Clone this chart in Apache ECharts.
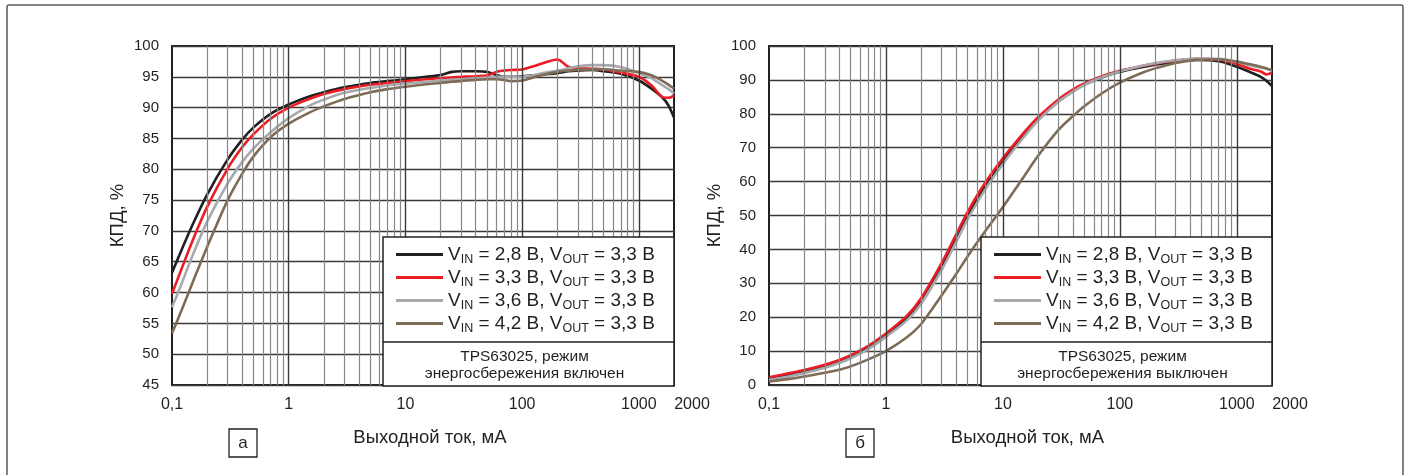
<!DOCTYPE html>
<html><head><meta charset="utf-8">
<script src="https://cdn.jsdelivr.net/npm/echarts@6/dist/echarts.min.js"></script>
<style>html,body{margin:0;padding:0;background:#fff}#c{width:1409px;height:475px}</style>
</head><body><div id="c"></div>
<script>
// ---------- data: panel a (power save enabled) ----------
const currentA = [0.1, 0.12, 0.15, 0.2, 0.3, 0.4, 0.5, 0.7, 1, 1.5, 2, 3, 5, 7, 10, 15, 20, 25, 30, 40, 50, 60, 70, 80, 100, 130, 150, 200, 250, 300, 400, 500, 700, 1000, 1300, 1600, 1800, 2000];
const effA_28 = [63.2, 66.8, 71.0, 75.9, 81.6, 84.8, 86.8, 89.0, 90.5, 91.8, 92.5, 93.3, 94.0, 94.3, 94.6, 95.0, 95.3, 95.8, 95.9, 95.9, 95.8, 95.3, 95.0, 95.0, 95.1, 95.3, 95.4, 95.6, 95.9, 96.0, 96.1, 95.9, 95.5, 94.4, 93.0, 91.6, 90.3, 88.4];
const effA_33 = [59.8, 63.7, 68.4, 73.9, 80.1, 83.6, 85.7, 88.2, 90.0, 91.4, 92.2, 93.0, 93.7, 94.0, 94.3, 94.6, 94.8, 94.9, 95.0, 95.1, 95.2, 95.8, 96.0, 96.1, 96.2, 96.8, 97.2, 97.8, 96.6, 96.4, 96.3, 96.2, 95.7, 95.0, 93.5, 91.7, 91.6, 92.0];
const effA_36 = [57.6, 61.3, 66.0, 71.5, 77.7, 81.2, 83.4, 86.0, 88.3, 90.3, 91.3, 92.4, 93.2, 93.6, 93.9, 94.2, 94.4, 94.5, 94.6, 94.8, 94.9, 95.0, 95.0, 95.0, 95.0, 95.3, 95.6, 96.0, 96.4, 96.7, 96.9, 96.9, 96.6, 95.6, 94.7, 93.6, 93.0, 92.3];
const effA_42 = [53.4, 57.0, 61.6, 67.4, 75.0, 79.3, 82.1, 85.2, 87.4, 89.2, 90.2, 91.4, 92.5, 93.0, 93.4, 93.8, 94.0, 94.2, 94.3, 94.5, 94.6, 94.6, 94.5, 94.3, 94.4, 95.0, 95.3, 95.8, 96.0, 96.1, 96.2, 96.2, 96.0, 95.8, 95.2, 94.3, 93.7, 93.1];

// ---------- data: panel b (power save disabled) ----------
const currentB = [0.1, 0.15, 0.2, 0.3, 0.4, 0.5, 0.7, 1, 1.5, 2, 3, 4, 5, 7, 10, 15, 20, 30, 40, 50, 70, 100, 150, 200, 300, 450, 700, 1000, 1300, 1600, 1800, 2000];
const effB_28 = [1.8, 2.9, 3.8, 5.4, 6.8, 8.2, 10.9, 14.6, 19.6, 24.7, 35.0, 43.4, 50.0, 58.5, 66.0, 73.6, 78.4, 83.8, 86.7, 88.6, 90.7, 92.4, 93.7, 94.5, 95.4, 95.9, 95.5, 93.9, 92.3, 90.9, 89.7, 88.2];
const effB_33 = [2.3, 3.5, 4.4, 6.0, 7.4, 8.8, 11.5, 15.2, 20.3, 25.6, 36.0, 44.5, 51.1, 59.5, 66.9, 74.3, 79.0, 84.3, 87.2, 89.0, 91.1, 92.7, 94.0, 94.8, 95.7, 96.2, 96.0, 94.7, 93.3, 92.5, 91.6, 92.1];
const effB_36 = [1.5, 2.6, 3.5, 5.1, 6.5, 7.9, 10.5, 14.2, 19.0, 24.0, 34.0, 42.3, 48.9, 57.5, 65.2, 73.0, 78.0, 83.6, 86.6, 88.6, 90.8, 92.5, 94.0, 94.9, 95.8, 96.3, 96.2, 95.3, 94.3, 93.6, 93.2, 92.7];
const effB_42 = [1.0, 1.8, 2.5, 3.6, 4.5, 5.5, 7.5, 10.0, 14.0, 18.0, 26.5, 32.8, 38.0, 45.2, 52.5, 61.3, 67.6, 75.3, 79.4, 82.3, 86.0, 89.2, 91.9, 93.4, 95.0, 95.9, 96.1, 95.4, 94.6, 93.9, 93.4, 92.9];

// ---------- labels ----------
const vinValues = ['2,8', '3,3', '3,6', '4,2'];
const voutValue = '3,3';
const xTickValues = [0.1, 1, 10, 100, 1000, 2000];
const yRangeA = [45, 100, 5];
const yRangeB = [0, 100, 10];
const xAxisTitle = 'Выходной ток, мА';
const yAxisTitle = 'КПД, %';
const noteA = ['TPS63025, режим', 'энергосбережения включен'];
const noteB = ['TPS63025, режим', 'энергосбережения выключен'];
const panelLetters = ['а', 'б'];
const colors = ['#231f20', '#ed1c24', '#a7a9ac', '#7d6b56'];

// ---------- layout ----------
const FONT = "'Liberation Sans', Arial, sans-serif";
const TXT = '#231f20';
const grids = [
  {left: 172, top: 46, width: 502, height: 339},
  {left: 769, top: 46, width: 503, height: 339}
];

// gridline positions for log axis (derived, not data)
const majorX = [1, 10, 100, 1000];
const minorX = [];
for (let d = 0.1; d < 2000; d *= 10) {
  for (let k = 2; k <= 9; k++) {
    const v = +(d * k).toPrecision(6);
    if (v < 2000) minorX.push(v);
  }
}

function fmtX(v) {
  const n = +(+v).toPrecision(6);
  if (n === 2000) return '{e|2000}';
  return String(n).replace('.', ',');
}

function xAxisFor(i) {
  return {
    gridIndex: i, type: 'log', logBase: 10, min: 0.1, max: 2000,
    axisLine: {show: false}, axisTick: {show: false}, splitLine: {show: false},
    axisLabel: {
      customValues: xTickValues, formatter: fmtX, margin: 12,
      fontSize: 16, color: TXT, fontFamily: FONT,
      rich: {e: {fontSize: 16, color: TXT, fontFamily: FONT, padding: [0, 0, 0, 36]}}
    },
    name: xAxisTitle, nameLocation: 'middle', nameGap: 43,
    nameTextStyle: {fontSize: 18.5, color: TXT, fontFamily: FONT, padding: [0, 0, 0, 14]}
  };
}
function yAxisFor(i, r) {
  return {
    gridIndex: i, type: 'value', min: r[0], max: r[1], interval: r[2],
    axisLine: {show: false}, axisTick: {show: false},
    splitLine: {show: true, lineStyle: {color: '#3a3a3a', width: 1.4}},
    axisLabel: {fontSize: 15, color: TXT, fontFamily: FONT, margin: 13},
    name: yAxisTitle, nameLocation: 'middle', nameGap: 45, nameRotate: 90,
    nameTextStyle: {fontSize: 18.5, color: TXT, fontFamily: FONT}
  };
}

function gridLineSeries(i) {
  const ml = (vals, color, w) => vals.map(v => ({xAxis: v, lineStyle: {color: color, width: w, type: 'solid'}}));
  return {
    type: 'line', xAxisIndex: i, yAxisIndex: i, data: [], z: 1, silent: true,
    markLine: {
      silent: true, symbol: ['none', 'none'], label: {show: false}, animation: false,
      data: ml(minorX, '#878787', 1.2).concat(ml(majorX, '#3a3a3a', 1.4))
    }
  };
}

function curve(i, xs, ys, k) {
  return {
    type: 'line', name: vinValues[k], xAxisIndex: i, yAxisIndex: i,
    data: xs.map((x, j) => [x, ys[j]]),
    symbol: 'none', smooth: 0.3, z: 3,
    lineStyle: {color: colors[k], width: 2.6}, itemStyle: {color: colors[k]},
    animation: false
  };
}

const series = [
  gridLineSeries(0), gridLineSeries(1),
  curve(0, currentA, effA_28, 0), curve(0, currentA, effA_33, 1), curve(0, currentA, effA_36, 2), curve(0, currentA, effA_42, 3),
  curve(1, currentB, effB_28, 0), curve(1, currentB, effB_33, 1), curve(1, currentB, effB_36, 2), curve(1, currentB, effB_42, 3)
];

function legendFor(left) {
  return {
    data: vinValues, orient: 'vertical', left: left, top: 245, padding: 0,
    icon: 'rect', itemWidth: 47, itemHeight: 3, itemGap: 2, z: 20, selectedMode: false,
    formatter: name => `{n|V}{s|IN}{n| = ${name} В, V}{s|OUT}{n| = ${voutValue} В}`,
    textStyle: {
      rich: {
        n: {fontSize: 19, lineHeight: 23, color: TXT, fontFamily: FONT},
        s: {fontSize: 12.5, lineHeight: 10, verticalAlign: 'bottom', color: TXT, fontFamily: FONT}
      }
    }
  };
}

function boxGraphics(x0, x1, note, letterX, letter) {
  const els = [];
  els.push({type: 'rect', z: 10, shape: {x: x0, y: 237, width: x1 - x0, height: 149},
    style: {fill: '#fff', stroke: '#231f20', lineWidth: 1.5}});
  els.push({type: 'line', z: 11, shape: {x1: x0, y1: 342, x2: x1, y2: 342},
    style: {stroke: '#231f20', lineWidth: 1.3}});
  note.forEach((t, j) => els.push({type: 'text', z: 11, x: (x0 + x1) / 2 - 4, y: 357 + j * 17,
    style: {text: t, fontSize: 15.5, fill: TXT, fontFamily: FONT, align: 'center', verticalAlign: 'middle'}}));
  els.push({type: 'rect', z: 11, shape: {x: letterX, y: 429, width: 28, height: 28},
    style: {fill: '#fff', stroke: '#231f20', lineWidth: 1.3}});
  els.push({type: 'text', z: 12, x: letterX + 14, y: 443,
    style: {text: letter, fontSize: 17, fill: TXT, fontFamily: FONT, align: 'center', verticalAlign: 'middle'}});
  return els;
}

const graphic = [
  {type: 'rect', z: 0, shape: {x: 7, y: 5, width: 1396, height: 490, r: 2},
   style: {fill: 'none', stroke: '#5a5a5a', lineWidth: 1.5}}
].concat(boxGraphics(383, 674, noteA, 229, panelLetters[0]))
 .concat(boxGraphics(981, 1272, noteB, 846, panelLetters[1]));

const chart = echarts.init(document.getElementById('c'), null, {renderer: 'canvas'});
chart.setOption({
  animation: false,
  backgroundColor: '#fff',
  grid: grids.map(g => Object.assign({show: true, borderColor: '#231f20', borderWidth: 2, backgroundColor: 'transparent'}, g)),
  xAxis: [xAxisFor(0), xAxisFor(1)],
  yAxis: [yAxisFor(0, yRangeA), yAxisFor(1, yRangeB)],
  legend: [legendFor(396), legendFor(994)],
  graphic: graphic,
  series: series
});
</script>
</body></html>
